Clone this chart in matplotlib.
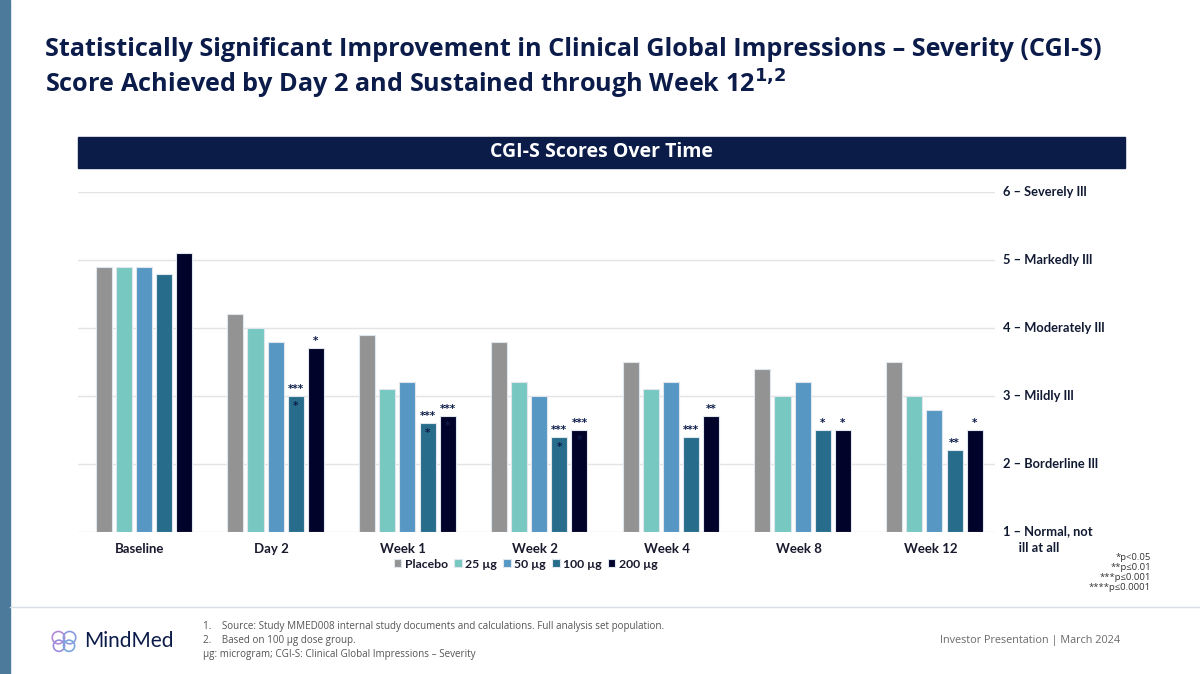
import numpy as np
import matplotlib.pyplot as plt
from matplotlib.patches import Rectangle, Circle

# data
categories = ["Baseline", "Day 2", "Week 1", "Week 2", "Week 4", "Week 8", "Week 12"]
groups = ["Placebo", "25 µg", "50 µg", "100 µg", "200 µg"]
placebo = [4.9, 4.2, 3.9, 3.8, 3.5, 3.4, 3.5]
dose_25 = [4.9, 4.0, 3.1, 3.2, 3.1, 3.0, 3.0]
dose_50 = [4.9, 3.8, 3.2, 3.0, 3.2, 3.2, 2.8]
dose_100 = [4.8, 3.0, 2.6, 2.4, 2.4, 2.5, 2.2]
dose_200 = [5.1, 3.7, 2.7, 2.5, 2.7, 2.5, 2.5]
# significance marks (above bar, inside bar)
stars_100 = [("", ""), ("***", "*"), ("***", "*"), ("***", "*"), ("***", ""), ("*", ""), ("**", "")]
stars_200 = [("", ""), ("*", ""), ("***", "*"), ("***", "*"), ("**", ""), ("*", ""), ("*", "")]
score_ticks = [6, 5, 4, 3, 2, 1]
score_labels = ["6 – Severely Ill", "5 – Markedly Ill", "4 – Moderately Ill",
                "3 – Mildly Ill", "2 – Borderline Ill", "1 – Normal, not\n     ill at all"]
pvalue_notes = ["*p<0.05", "**p≤0.01", "***p≤0.001", "****p≤0.0001"]

colors = ["#939393", "#76c8c0", "#5697c4", "#276d8b", "#02032a"]
navy = "#0c1c4a"
W, H = 1200, 674

fig = plt.figure(figsize=(12, 6.74), dpi=100)
fig.patch.set_facecolor("white")

def fx(px):
    return px / W

def fy(py):
    return 1 - py / H

# left stripe
fig.patches.append(Rectangle((0, 0), fx(10), 1, transform=fig.transFigure,
                             color="#4b7a9a", zorder=0))

# title
fig.text(fx(45), fy(50), "Statistically Significant Improvement in Clinical Global Impressions – Severity (CGI-S)",
         fontsize=18.2, fontweight="bold", color=navy, family="Open Sans", va="center")
fig.text(fx(45), fy(84), r"Score Achieved by Day 2 and Sustained through Week 12$^{\mathbf{1{,}2}}$",
         fontsize=18.2, fontweight="bold", color=navy, family="Open Sans", va="center")

# header band
fig.patches.append(Rectangle((fx(78), fy(168)), fx(1125 - 78), (168 - 137) / H,
                             transform=fig.transFigure, color="#0b1c48", zorder=1))
fig.text(fx(601), fy(152), "CGI-S Scores Over Time", fontsize=14, fontweight="bold",
         color="white", family="Open Sans", ha="center", va="center")

# chart
ax = fig.add_axes([fx(78), fy(532), fx(995 - 78), (532 - 192) / H])
series = [placebo, dose_25, dose_50, dose_100, dose_200]
x = np.arange(len(categories))
step = 0.153
bw = 0.122
for i, vals in enumerate(series):
    off = (i - 2) * step
    ax.bar(x + off, np.array(vals) - 1, bottom=1, width=bw, color=colors[i],
           edgecolor="#dfe6ee", linewidth=0.8, label=groups[i], zorder=3)

for i, (vals, marks) in enumerate([(dose_100, stars_100), (dose_200, stars_200)]):
    off = (i + 1) * step
    for xi, v, (top, inner) in zip(x, vals, marks):
        if top:
            ax.text(xi + off, v + 0.03, top, ha="center", va="bottom", fontsize=7.5,
                    color=navy, fontweight="bold", zorder=4)
        if inner:
            ax.text(xi + off, v - 0.22, inner, ha="center", va="bottom", fontsize=7.5,
                    color=navy, fontweight="bold", zorder=4)

ax.set_xlim(-0.5, 6.46)
ax.set_ylim(1, 6)
ax.set_yticks(score_ticks)
ax.set_yticklabels([])
ax.tick_params(axis="y", length=0)
ax.grid(axis="y", color="#e4e4e4", linewidth=1, zorder=0)
for s in ax.spines.values():
    s.set_visible(False)
ax.set_xticks(x - 0.03)
ax.set_xticklabels(categories, fontsize=9.5, color="#1a1a2e", family="Lato", fontweight="bold")
ax.tick_params(axis="x", length=0, pad=8)

ytr = ax.get_yaxis_transform()
for t, lab in zip(score_ticks, score_labels):
    ax.text(1.009, t + (0.1 if t == 1 else 0), lab, transform=ytr, fontsize=9.3,
            fontweight="bold", color="#111a33", family="Lato",
            va="top" if t == 1 else "center", ha="left", clip_on=False, linespacing=1.5)

leg = ax.legend(loc="center", bbox_to_anchor=(fx(526), fy(564)), bbox_transform=fig.transFigure,
                ncol=5, frameon=False, handlelength=0.6, handleheight=0.6, handletextpad=0.3,
                columnspacing=0.5, prop={"family": "Lato", "weight": "bold", "size": 8.8})
for txt in leg.get_texts():
    txt.set_color("#1a1a2e")

for k, note in enumerate(pvalue_notes):
    fig.text(fx(1151), fy(557 + k * 10), note, fontsize=6.8, color="#333333",
             ha="right", va="center", family="Open Sans")

# footer
fig.add_artist(plt.Line2D([fx(10), 1], [fy(607), fy(607)], color="#d9dde8", linewidth=1))
foot = ["1.    Source: Study MMED008 internal study documents and calculations. Full analysis set population.",
        "2.    Based on 100 µg dose group.",
        "µg: microgram; CGI-S: Clinical Global Impressions – Severity"]
for k, line in enumerate(foot):
    fig.text(fx(203), fy(627 + k * 14), line, fontsize=7.1, color="#555555",
             va="center", family="Open Sans")
fig.text(fx(1120), fy(641), "Investor Presentation | March 2024", fontsize=7.8,
         color="#6a6a6a", ha="right", va="center", family="Open Sans")

# logo
logo = fig.add_axes([fx(50), fy(655), fx(28), 28 / H])
logo.set_xlim(0, 1)
logo.set_ylim(0, 1)
logo.axis("off")
for cx, cy, r, c in [(0.3, 0.62, 0.22, "#b18ad8"), (0.7, 0.62, 0.22, "#8a9be0"),
                     (0.32, 0.33, 0.2, "#9a8ddc"), (0.68, 0.33, 0.2, "#7aa6de")]:
    logo.add_patch(Circle((cx, cy), r, fill=False, edgecolor=c, linewidth=1.2))
fig.text(fx(84), fy(641), "MindMed", fontsize=15, color="#0c1c4a", va="center",
         family="Lato")

fig.savefig("out.png", dpi=100)
